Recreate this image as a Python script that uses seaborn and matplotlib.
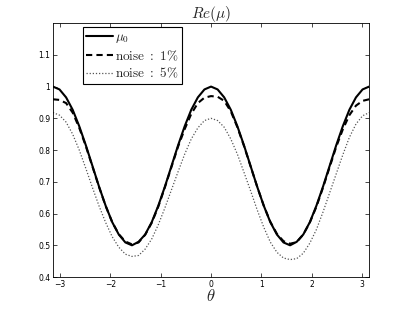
import numpy as np
import pandas as pd
import seaborn as sns
import matplotlib.pyplot as plt
from matplotlib.ticker import FixedLocator, FixedFormatter

# theta sampled from -pi to pi in steps of pi/24
theta = np.linspace(-np.pi, np.pi, 49)

mu0 = [1.0, 0.991, 0.966, 0.927, 0.875, 0.815, 0.75, 0.685, 0.625, 0.573, 0.534, 0.509, 0.5,
       0.511, 0.534, 0.573, 0.625, 0.685, 0.75, 0.815, 0.875, 0.927, 0.966, 0.991, 1.0,
       0.991, 0.966, 0.927, 0.875, 0.815, 0.75, 0.685, 0.625, 0.573, 0.534, 0.509, 0.5,
       0.511, 0.534, 0.573, 0.625, 0.685, 0.75, 0.815, 0.875, 0.927, 0.966, 0.991, 1.0]

noise_1 = [0.96, 0.958, 0.948, 0.918, 0.87, 0.812, 0.748, 0.684, 0.624, 0.573, 0.535, 0.512, 0.503,
           0.509, 0.533, 0.571, 0.622, 0.683, 0.747, 0.811, 0.866, 0.914, 0.948, 0.965, 0.97,
           0.968, 0.955, 0.922, 0.872, 0.813, 0.749, 0.685, 0.625, 0.574, 0.536, 0.513, 0.505,
           0.51, 0.534, 0.572, 0.622, 0.682, 0.746, 0.81, 0.865, 0.91, 0.94, 0.955, 0.96]

noise_5 = [0.918, 0.91, 0.888, 0.85, 0.80, 0.742, 0.682, 0.624, 0.572, 0.527, 0.494, 0.472, 0.465,
           0.468, 0.488, 0.52, 0.565, 0.618, 0.675, 0.732, 0.787, 0.835, 0.87, 0.893, 0.90,
           0.893, 0.872, 0.835, 0.787, 0.73, 0.672, 0.612, 0.557, 0.51, 0.478, 0.46, 0.455,
           0.458, 0.475, 0.507, 0.55, 0.605, 0.665, 0.725, 0.785, 0.84, 0.882, 0.908, 0.918]

x_ticks = [-3, -2, -1, 0, 1, 2, 3]
y_ticks = [0.4, 0.5, 0.6, 0.7, 0.8, 0.9, 1.0, 1.1]
y_tick_labels = ["0.4", "0.5", "0.6", "0.7", "0.8", "0.9", "1", "1.1"]

sns.set_style("ticks")
plt.rcParams["mathtext.fontset"] = "cm"
plt.rcParams["font.family"] = ["DejaVu Sans"]

fig = plt.figure(figsize=(4.07, 3.12), dpi=100)
ax = fig.add_axes([0.130, 0.112, 0.777, 0.814])

sns.lineplot(x=theta, y=mu0, ax=ax, color="black", linewidth=1.5, label=r"$\mu_0$")
sns.lineplot(x=theta, y=noise_1, ax=ax, color="black", linewidth=1.5, linestyle=(0, (3, 2)),
             label=r"$\mathrm{noise\ :\ 1\%}$")
sns.lineplot(x=theta, y=noise_5, ax=ax, color="#555555", linewidth=0.9, linestyle=(0, (1, 1.5)),
             label=r"$\mathrm{noise\ :\ 5\%}$")

ax.set_xlim(-np.pi, np.pi)
ax.set_ylim(0.4, 1.2)
ax.xaxis.set_major_locator(FixedLocator(x_ticks))
ax.xaxis.set_major_formatter(FixedFormatter([str(t).replace("-", "\u2212") for t in x_ticks]))
ax.yaxis.set_major_locator(FixedLocator(y_ticks))
ax.yaxis.set_major_formatter(FixedFormatter(y_tick_labels))
ax.tick_params(direction="in", length=3, width=0.5, labelsize=5.5, top=True, right=True,
               colors="black", pad=2)
for s in ax.spines.values():
    s.set_visible(True)
    s.set_linewidth(0.6)
    s.set_color("black")

ax.set_title(r"$Re(\mu)$", fontsize=11, pad=4)
ax.set_xlabel(r"$\theta$", fontsize=12, labelpad=-1)
ax.set_ylabel("")

leg = ax.legend(loc="upper left", bbox_to_anchor=(0.095, 0.985), fontsize=9.5, frameon=True,
                fancybox=False, edgecolor="black", framealpha=1, handlelength=2.0,
                handletextpad=0.2, borderpad=0.25, labelspacing=0.25, borderaxespad=0)
leg.get_frame().set_linewidth(0.8)

fig.savefig("out.png", dpi=100)
